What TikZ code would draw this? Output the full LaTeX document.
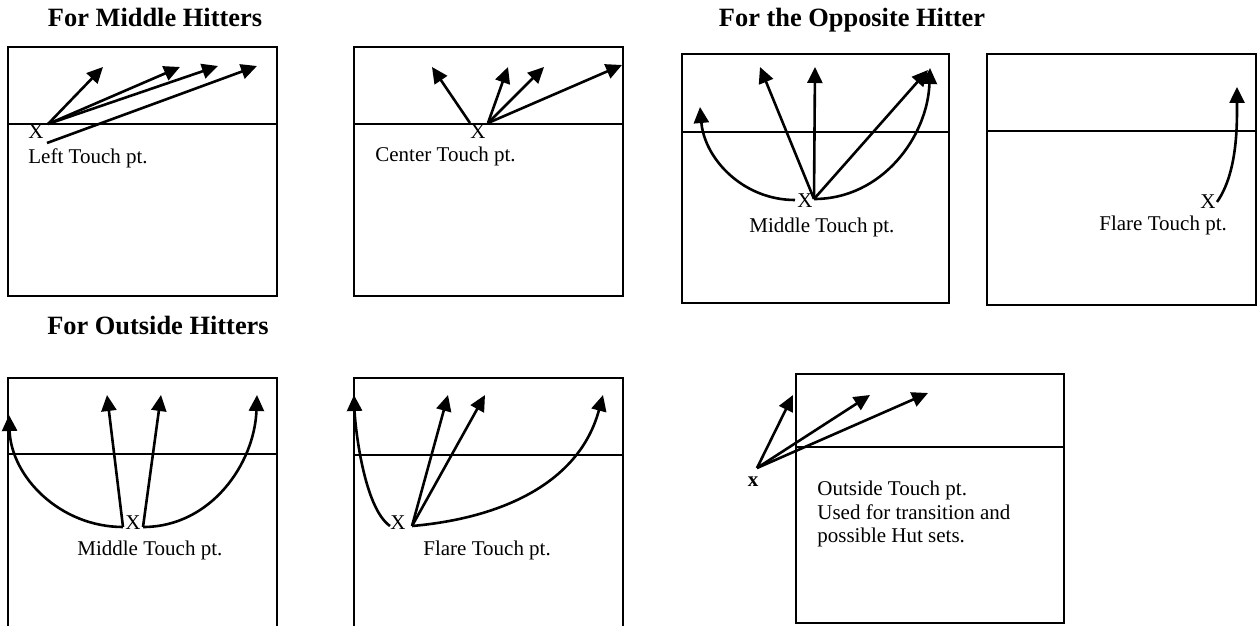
\documentclass[tikz,border=0pt]{standalone}
\usepackage{fontspec}
\setmainfont{Liberation Serif}
\usetikzlibrary{arrows.meta}

\begin{document}
\begin{tikzpicture}[x=0.5pt,y=0.5pt,font=\fontsize{10.5}{11.75}\selectfont,
  court/.style={line width=0.8pt},
  net/.style={line width=0.8pt},
  arr/.style={-{Triangle[length=8pt,width=7.5pt]},line width=1.3pt},
  ttl/.style={font=\fontsize{13.2}{16}\selectfont\bfseries,anchor=base,inner sep=0pt},
  lbl/.style={anchor=base west,inner sep=0pt},
  touch/.style={inner sep=0pt}]
\useasboundingbox (0,0) rectangle (1259,-626);

% headings
\node[ttl] (t1) at (155,-27) {For Middle Hitters};
\node[ttl] (t2) at (852,-27) {For the Opposite Hitter};
\node[ttl] (t3) at (158,-334) {For Outside Hitters};

% courts and nets
\draw[court] (8,-47) rectangle (277,-296); \draw[net] (8,-124) -- (277,-124);
\draw[court] (354,-47) rectangle (623,-296); \draw[net] (354,-124) -- (623,-124);
\draw[court] (682,-54) rectangle (949,-303); \draw[net] (682,-132) -- (949,-132);
\draw[court] (987,-54) rectangle (1256,-305); \draw[net] (987,-131) -- (1256,-131);
\draw[court] (8,-640) -- (8,-378) -- (277,-378) -- (277,-640); \draw[net] (8,-454) -- (277,-454);
\draw[court] (354,-640) -- (354,-378) -- (623,-378) -- (623,-640); \draw[net] (354,-455) -- (623,-455);
\draw[court] (796,-374) rectangle (1064,-623); \draw[net] (796,-447) -- (1064,-447);

% left touch (middle hitters)
\node[touch] (x1) at (36,-132) {X};
\node[lbl] (l1) at (28,-163) {Left Touch pt.};
\coordinate (o1) at (48,-124); \coordinate (o1b) at (47,-143);
\path (103,-67) coordinate (p1a) (180,-67) coordinate (p1b) (218,-66) coordinate (p1c) (257,-66) coordinate (p1d);
\draw[arr] (o1)--(p1a); \draw[arr] (o1)--(p1b); \draw[arr] (o1)--(p1c); \draw[arr] (o1b)--(p1d);

% center touch
\node[touch] (x2) at (478,-132) {X};
\node[lbl] (l2) at (375,-162) {Center Touch pt.};
\coordinate (o2a) at (470,-123); \coordinate (o2) at (488,-123);
\path (432,-67) coordinate (p2a) (508,-67) coordinate (p2b) (544,-67) coordinate (p2c) (622,-65) coordinate (p2d);
\draw[arr] (o2a)--(p2a); \draw[arr] (o2)--(p2b); \draw[arr] (o2)--(p2c); \draw[arr] (o2)--(p2d);

% middle touch (opposite)
\node[touch] (x3) at (805,-201) {X};
\node[lbl] (l3) at (749,-232) {Middle Touch pt.};
\coordinate (o3a) at (795,-200); \coordinate (o3) at (814,-199);
\path (700,-107) coordinate (p3a) (760,-67) coordinate (p3b) (815,-67) coordinate (p3c) (928,-70) coordinate (p3d) (930,-68) coordinate (p3e);
\draw[arr] (o3a) to[out=180,in=-85] (p3a);
\draw[arr] (o3)--(p3b); \draw[arr] (o3)--(p3c); \draw[arr] (o3)--(p3d);
\draw[arr] (o3) to[out=0,in=-92] (p3e);

% flare touch (opposite)
\node[touch] (x4) at (1208,-202) {X};
\node[lbl] (l4) at (1099,-230) {Flare Touch pt.};
\coordinate (o4) at (1217,-202); \coordinate (p4) at (1237,-87);
\draw[arr] (o4) to[out=55,in=-90,looseness=0.8] (p4);

% middle touch (outside)
\node[touch] (x5) at (133,-523) {X};
\node[lbl] (l5) at (77,-555) {Middle Touch pt.};
\coordinate (o5a) at (123,-527); \coordinate (o5) at (143,-527);
\path (9,-415) coordinate (p5a) (107,-395) coordinate (p5b) (161,-395) coordinate (p5c) (257,-395) coordinate (p5d);
\draw[arr] (o5a) to[out=180,in=-88] (p5a);
\draw[arr] (o5a)--(p5b); \draw[arr] (o5)--(p5c);
\draw[arr] (o5) to[out=0,in=-92] (p5d);

% flare touch (outside)
\node[touch] (x6) at (398,-523) {X};
\node[lbl] (l6) at (423,-555) {Flare Touch pt.};
\coordinate (o6a) at (390,-526); \coordinate (o6) at (412,-526);
\path (354,-395) coordinate (p6a) (448,-395) coordinate (p6b) (485,-395) coordinate (p6c) (603,-395) coordinate (p6d);
\draw[arr] (o6a) to[out=145,in=-88,looseness=0.6] (p6a);
\draw[arr] (o6)--(p6b); \draw[arr] (o6)--(p6c);
\draw[arr] (o6) to[out=5,in=-105] (p6d);

% outside touch
\node[touch,font=\fontsize{10.5}{11.75}\selectfont\bfseries] (x7) at (753,-482) {x};
\node[touch,anchor=north west,align=left] (l7) at (817,-481) {Outside Touch pt.\\Used for transition and\\possible Hut sets.};
\coordinate (o7) at (757,-468);
\path (793,-395) coordinate (p7a) (870,-395) coordinate (p7b) (928,-393) coordinate (p7c);
\draw[arr] (o7)--(p7a); \draw[arr] (o7)--(p7b); \draw[arr] (o7)--(p7c);
\end{tikzpicture}
\end{document}
